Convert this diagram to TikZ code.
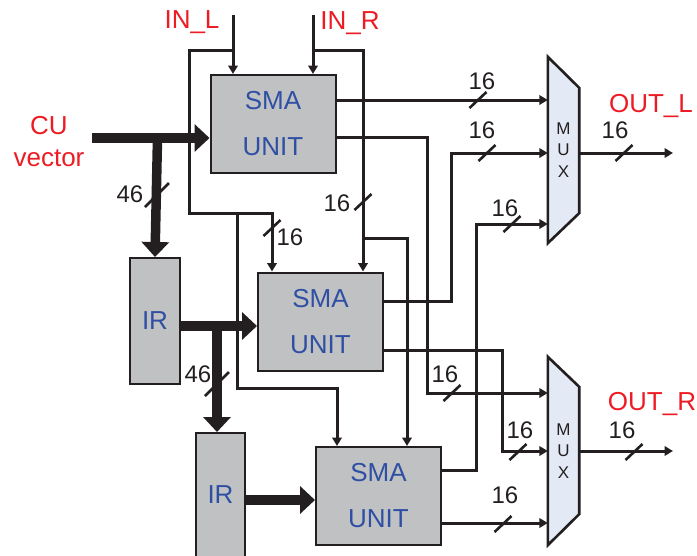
\documentclass[tikz,border=0pt]{standalone}
\usepackage{fontspec}
\setmainfont{Liberation Sans}
\usetikzlibrary{arrows.meta,calc,backgrounds}
\definecolor{redtxt}{HTML}{ED1C24}
\definecolor{bluetxt}{HTML}{2E4FA3}
\definecolor{boxgray}{HTML}{C0C1C3}
\definecolor{muxfill}{HTML}{E3E9F5}
\definecolor{ink}{HTML}{231F20}
\newcommand\busslash[1]{\draw[slashline] ($(#1)+(-8.5,8)$) -- ($(#1)+(8.5,-8)$);}
\newcommand\bigslash[1]{\draw[slashline] ($(#1)+(-12,12)$) -- ($(#1)+(12,-12)$);}
\begin{document}
\begin{tikzpicture}[x=1pt,y=-1pt,
  box/.style={draw=ink,line width=2pt,fill=boxgray,inner sep=0pt},
  smabox/.style={box,minimum width=125pt,minimum height=98pt,align=center,text=bluetxt,font=\fontsize{26}{46}\selectfont},
  irbox/.style={box,minimum width=50pt,minimum height=126pt,text=bluetxt,font=\fontsize{26}{30}\selectfont},
  wire/.style={draw=ink,line width=3pt},
  arr/.style={wire,-{Triangle[length=8.5pt,width=9.5pt]}},
  bus/.style={draw=ink,line width=9.5pt,-{Triangle[length=15pt,width=27pt]}},
  lbl/.style={text=redtxt,font=\fontsize{26}{32}\selectfont,inner sep=0pt,align=center},
  num/.style={text=ink,font=\fontsize{24}{28}\selectfont,inner sep=0pt},
  muxnode/.style={font=\fontsize{17}{21.5}\selectfont,align=center,inner sep=0pt,minimum width=31pt,text=ink},
  muxshape/.style={draw=ink,line width=2.6pt,fill=muxfill,line join=miter},
  slashline/.style={draw=ink,line width=2.6pt},
]
\useasboundingbox (0,0) rectangle (697,555);
\clip (0,0) rectangle (697,555);

% boxes
\node[smabox] (sma1) at (273,124) {SMA\\UNIT};
\node[smabox] (sma2) at (320.5,321.5) {SMA\\UNIT};
\node[smabox] (sma3) at (378.5,496) {SMA\\UNIT};
\node[irbox] (ir1) at (155,321) {IR};
\node[irbox,minimum width=49pt,minimum height=124pt] (ir2) at (220.5,495) {IR};

% muxes
\node[muxnode,minimum height=186pt] (mux1) at (563.5,150) {M\\U\\X};
\node[muxnode,minimum height=188pt] (mux2) at (563.5,451) {M\\U\\X};
\begin{scope}[on background layer]
\draw[muxshape] (mux1.north west) -- ($(mux1.north east)+(0,31)$) -- ($(mux1.south east)+(0,-30)$) -- (mux1.south west) -- cycle;
\draw[muxshape] (mux2.north west) -- ($(mux2.north east)+(0,30)$) -- ($(mux2.south east)+(0,-31)$) -- (mux2.south west) -- cycle;
\end{scope}

% labels
\node[lbl] (inL) at (192,22.5) {IN\_L};
\node[lbl] (inR) at (350,23.5) {IN\_R};
\node[lbl] (cu) at (49,142) {CU\\vector};
\node[lbl] (outL) at (651,106) {OUT\_L};
\node[lbl] (outR) at (652,404) {OUT\_R};

% junction coordinates
\coordinate (inLtop) at (233,15);
\coordinate (inRtop) at (313,15);
\coordinate (cuStart) at (92,138);
\coordinate (busA) at (157.5,138);
\coordinate (busB) at (217,326);
\coordinate (jL1) at (189,50);
\coordinate (jL2) at (189,213);
\coordinate (jL3) at (237,213);
\coordinate (jL4) at (237,388);
\coordinate (jR1) at (363,50);
\coordinate (jR2) at (363,238);
\coordinate (jR3) at (407,238);
\coordinate (o1b) at (427,137);
\coordinate (o2a) at (451,301);
\coordinate (o2b) at (502,350);
\coordinate (o3a) at (476,470);
\coordinate (outLend) at (673,153);
\coordinate (outRend) at (673,451);

% thick buses
\draw[bus] (cuStart) -- (cuStart -| sma1.west);
\draw[bus] (busA) -- (ir1.north);
\draw[bus] (ir1.east |- busB) -- (busB -| sma2.west);
\draw[bus] (busB) -- (ir2.north -| busB);
\draw[bus] (ir2.east |- 0,500) -- (sma3.west |- 0,500);

% inputs
\draw[arr] (inLtop) -- (inLtop |- sma1.north);
\draw[arr] (inRtop) -- (inRtop |- sma1.north);
\draw[arr] (inLtop |- jL1) -- (jL1) -- (jL2) -- (272,213) -- (272,0 |- sma2.north);
\draw[arr] (jL3) -- (jL4) -- (jL4 -| 337,0) -- (337,0 |- sma3.north);
\draw[arr] (inRtop |- jR1) -- (jR1) -- (jR1 |- sma2.north);
\draw[arr] (jR2) -- (jR3) -- (jR3 |- sma3.north);

% outputs to muxes
\draw[arr] (sma1.east |- 0,100) -- (mux1.west |- 0,100);
\draw[arr] (sma1.east |- o1b) -- (o1b) -- (o1b |- 0,393) -- (mux2.west |- 0,393);
\draw[arr] (sma2.east |- o2a) -- (o2a) -- (o2a |- 0,153) -- (mux1.west |- 0,153);
\draw[arr] (sma2.east |- o2b) -- (o2b) -- (o2b |- 0,451) -- (mux2.west |- 0,451);
\draw[arr] (sma3.east |- o3a) -- (o3a) -- (o3a |- 0,224) -- (mux1.west |- 0,224);
\draw[arr] (sma3.east |- 0,523) -- (mux2.west |- 0,523);
\draw[arr] (mux1.east |- outLend) -- (outLend);
\draw[arr] (mux2.east |- outRend) -- (outRend);

% bus width marks
\bigslash{157,195}
\bigslash{217,384}
\busslash{363,202}
\busslash{272,228}
\busslash{478,100}
\busslash{487,153}
\busslash{512,224}
\busslash{624,153}
\busslash{452,393}
\busslash{518,452}
\busslash{503,524}
\busslash{634,452}
\node[num] (n46a) at (130,194) {46};
\node[num] (n46b) at (198,374) {46};
\node[num] (n1) at (337,203) {16};
\node[num] (n2) at (290,237) {16};
\node[num] (n3) at (482,81) {16};
\node[num] (n4) at (482,130) {16};
\node[num] (n5) at (505,208) {16};
\node[num] (n6) at (615,130) {16};
\node[num] (n7) at (445,374) {16};
\node[num] (n8) at (520,430) {16};
\node[num] (n9) at (505,495) {16};
\node[num] (n10) at (622,430) {16};
\end{tikzpicture}
\end{document}
